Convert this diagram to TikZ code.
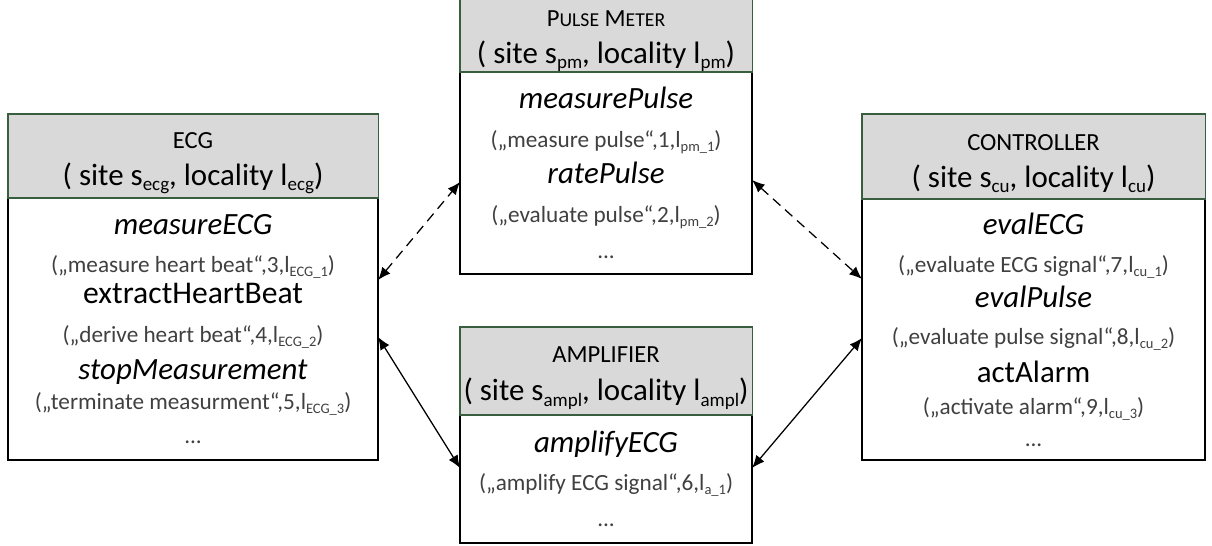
\documentclass[tikz,border=0pt]{standalone}
\usepackage{fontspec}
\setmainfont{Carlito}
\usetikzlibrary{arrows.meta,calc,positioning}

\definecolor{headgray}{RGB}{217,217,217}
\definecolor{headgreen}{RGB}{56,94,62}
\definecolor{textgray}{RGB}{64,64,64}

\newcommand{\lowsub}[2]{\raisebox{-0.35ex}{\fontsize{#1}{#1}\selectfont #2}}
\newcommand{\fn}[1]{{\fontsize{22}{22}\selectfont #1}}
\newcommand{\tup}[1]{{\fontsize{16.5}{16.5}\selectfont\color{textgray}#1}}
\newcommand{\loc}[1]{l\lowsub{10.3}{#1}}
\newcommand{\site}[2]{{\fontsize{22}{22}\selectfont ( site s\lowsub{13.5}{#1}, locality l\lowsub{13.5}{#2})}}

\begin{document}
\begin{tikzpicture}[x=0.025cm,y=-0.025cm]
\tikzstyle{head}=[rectangle,draw=headgreen,fill=headgray,line width=0.8pt,inner sep=0pt,outer sep=0pt,align=center,font=\fontsize{17.5}{21}\selectfont]
\tikzstyle{body}=[rectangle,draw=black,line width=1.1pt,fill=white,inner sep=0pt,outer sep=0pt,align=center,anchor=north west,font=\fontsize{21}{21}\selectfont]
\tikzstyle{link}=[{Latex[length=9pt,width=7.5pt]}-{Latex[length=9pt,width=7.5pt]},line width=0.9pt]
\tikzstyle{wireless}=[link,dash pattern=on 7pt off 4.5pt]

\useasboundingbox (0,0) rectangle (1212,546);

% ECG
\node[body,minimum width=9.25cm,minimum height=6.55cm] (ecg_fn) at (8,198)
  {\fn{\textit{measureECG}}\\[6pt]
   \tup{(„measure heart beat“,3,\loc{ECG\_1})}\\[1pt]
   {\fontsize{22.5}{22.5}\selectfont extractHeartBeat}\\[7pt]
   \tup{(„derive heart beat“,4,\loc{ECG\_2})}\\[5.3pt]
   \fn{\textit{stopMeasurement}}\\[0.3pt]
   \tup{(„terminate measurment“,5,\loc{ECG\_3})}\\[3.2pt]
   \tup{...}};
\node[head,minimum width=9.25cm,minimum height=2.1cm,above=0mm of ecg_fn] (ecg)
  {\rule{0pt}{21pt}ECG\\[5.3pt] \site{ecg}{ecg}};

% pulse meter
\node[body,minimum width=7.3cm,minimum height=5.05cm] (pm_fn) at (460,72)
  {\fn{\textit{measurePulse}}\\[6.7pt]
   \tup{(„measure pulse“,1,\loc{pm\_1})}\\[4.6pt]
   \fn{\textit{ratePulse}}\\[6.7pt]
   \tup{(„evaluate pulse“,2,\loc{pm\_2})}\\[4.6pt]
   \tup{...}};
\node[head,minimum width=7.3cm,minimum height=1.75cm,above=0mm of pm_fn] (pm)
  {\rule{0pt}{20pt}P{\fontsize{14}{14}\selectfont ULSE} M{\fontsize{14}{14}\selectfont ETER}\\[5.3pt] \site{pm}{pm}};

% amplifier
\node[body,minimum width=7.3cm,minimum height=3.2cm] (ampl_fn) at (460,415)
  {\fn{\textit{amplifyECG}}\\[6pt]
   \tup{(„amplify ECG signal“,6,\loc{a\_1})}\\[4.6pt]
   \tup{...}};
\node[head,minimum width=7.3cm,minimum height=2.2cm,above=0mm of ampl_fn] (ampl)
  {\rule{0pt}{21pt}AMPLIFIER\\[6.5pt] \site{ampl}{ampl}};

% controller
\node[body,minimum width=8.575cm,minimum height=6.525cm] (cu_fn) at (862,199)
  {\fn{\textit{evalECG}}\\[6pt]
   \tup{(„evaluate ECG signal“,7,\loc{cu\_1})}\\[3.9pt]
   \fn{\textit{evalPulse}}\\[5.3pt]
   \tup{(„evaluate pulse signal“,8,\loc{cu\_2})}\\[6pt]
   \fn{actAlarm}\\[1.8pt]
   \tup{(„activate alarm“,9,\loc{cu\_3})}\\[1.8pt]
   \tup{...}};
\node[head,minimum width=8.575cm,minimum height=2.125cm,above=0mm of cu_fn] (cu)
  {\rule{0pt}{21pt}CONTROLLER\\[5.3pt] \site{cu}{cu}};

% links
\draw[wireless] ($(ecg_fn.north east)+(0,82)$) -- ($(pm_fn.north west)+(0,110)$);
\draw[link] ($(ecg_fn.north east)+(0,139)$) -- ($(ampl_fn.north west)+(0,53)$);
\draw[wireless] ($(pm_fn.north east)+(0,108)$) -- ($(cu_fn.north west)+(0,80)$);
\draw[link] ($(ampl_fn.north east)+(0,53)$) -- ($(cu_fn.north west)+(0,139)$);
\end{tikzpicture}
\end{document}
